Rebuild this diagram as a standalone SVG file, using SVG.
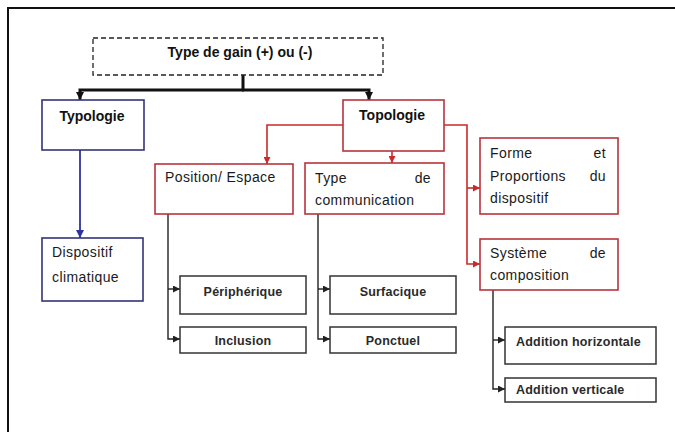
<svg xmlns="http://www.w3.org/2000/svg" width="675" height="432" viewBox="0 0 675 432">
<style>
.bg{fill:#ffffff}
.frame{fill:none;stroke:#111;stroke-width:2}
.box{fill:#fff;stroke-width:1.6}
.blue{stroke:#34347a}
.red{stroke:#b8343c}
.blk{stroke:#333;stroke-width:1.5}
.dash{fill:#fff;stroke:#222;stroke-width:1.3;stroke-dasharray:5 3}
.t{font-family:"Liberation Sans",Arial,sans-serif;font-size:14px;fill:#1a1a1a;letter-spacing:0.4px}
.tb{font-family:"Liberation Sans",Arial,sans-serif;font-size:14px;font-weight:bold;fill:#111}
.ts{font-family:"Liberation Sans",Arial,sans-serif;font-size:12.5px;font-weight:bold;fill:#2a2a2a;letter-spacing:0.2px}
.c{fill:none}
.ck{stroke:#111;stroke-width:3}
.cb{stroke:#3030a0;stroke-width:1.8}
.cr{stroke:#cc2a2a;stroke-width:1.6}
.ct{stroke:#222;stroke-width:1.4}
</style>
<defs>
<marker id="aK" viewBox="0 0 10 10" refX="10" refY="5" markerWidth="8" markerHeight="8" markerUnits="userSpaceOnUse" orient="auto"><path d="M0,0 L10,5 L0,10 z" fill="#111"/></marker>
<marker id="aB" viewBox="0 0 10 10" refX="10" refY="5" markerWidth="8" markerHeight="8" markerUnits="userSpaceOnUse" orient="auto"><path d="M0,0 L10,5 L0,10 z" fill="#3030a0"/></marker>
<marker id="aR" viewBox="0 0 10 10" refX="10" refY="5" markerWidth="7" markerHeight="7" markerUnits="userSpaceOnUse" orient="auto"><path d="M0,0 L10,5 L0,10 z" fill="#cc2a2a"/></marker>
<marker id="aT" viewBox="0 0 10 10" refX="10" refY="5" markerWidth="7" markerHeight="7" markerUnits="userSpaceOnUse" orient="auto"><path d="M0,0 L10,5 L0,10 z" fill="#222"/></marker>
</defs>
<rect class="bg" x="0" y="0" width="675" height="432"/>
<path class="frame" d="M8,432 V8 H675"/>

<g id="connectors">
<path class="c ck" d="M243,75 V90"/>
<path class="c ck" d="M244,90 H80 V100" marker-end="url(#aK)"/>
<path class="c ck" d="M242,90 H369 V100" marker-end="url(#aK)"/>
<path class="c cb" d="M80,150 V238" marker-end="url(#aB)"/>
<path class="c cr" d="M343,125 H267 V164" marker-end="url(#aR)"/>
<path class="c cr" d="M392,151 V163" marker-end="url(#aR)"/>
<path class="c cr" d="M444,125 H467 V264 H480" marker-end="url(#aR)"/>
<path class="c cr" d="M467,188 H480" marker-end="url(#aR)"/>
<path class="c ct" d="M168,214 V339 H180" marker-end="url(#aT)"/>
<path class="c ct" d="M168,289 H180" marker-end="url(#aT)"/>
<path class="c ct" d="M318,214 V339 H330" marker-end="url(#aT)"/>
<path class="c ct" d="M318,289 H330" marker-end="url(#aT)"/>
<path class="c ct" d="M493,290 V389 H505" marker-end="url(#aT)"/>
<path class="c ct" d="M493,340 H505" marker-end="url(#aT)"/>
</g>

<g id="type-de-gain">
<rect class="dash" x="93" y="38" width="290" height="37"/>
<text class="tb" x="240" y="57" text-anchor="middle">Type de gain (+) ou (-)</text>
</g>
<g id="typologie">
<rect class="box blue" x="42" y="100" width="102" height="50"/>
<text class="tb" x="92" y="121" text-anchor="middle">Typologie</text>
</g>
<g id="dispositif-climatique">
<rect class="box blue" x="42" y="238" width="101" height="63"/>
<text class="t" x="52" y="257">Dispositif</text>
<text class="t" x="52" y="282">climatique</text>
</g>
<g id="topologie">
<rect class="box red" x="343" y="100" width="101" height="51"/>
<text class="tb" x="392" y="120" text-anchor="middle">Topologie</text>
</g>
<g id="position-espace">
<rect class="box red" x="155" y="164" width="138" height="50"/>
<text class="t" x="165" y="182">Position/ Espace</text>
</g>
<g id="type-de-communication">
<rect class="box red" x="305" y="163" width="139" height="51"/>
<text class="t" x="315" y="183">Type</text>
<text class="t" x="431" y="183" text-anchor="end">de</text>
<text class="t" x="315" y="205">communication</text>
</g>
<g id="forme-proportions">
<rect class="box red" x="480" y="138" width="138" height="76"/>
<text class="t" x="490" y="158">Forme</text>
<text class="t" x="606" y="158" text-anchor="end">et</text>
<text class="t" x="490" y="181">Proportions</text>
<text class="t" x="606" y="181" text-anchor="end">du</text>
<text class="t" x="490" y="203">dispositif</text>
</g>
<g id="systeme-composition">
<rect class="box red" x="480" y="239" width="138" height="51"/>
<text class="t" x="490" y="258">Système</text>
<text class="t" x="606" y="258" text-anchor="end">de</text>
<text class="t" x="490" y="280">composition</text>
</g>
<g id="peripherique">
<rect class="box blk" x="180" y="276" width="126" height="38"/>
<text class="ts" x="243" y="296" text-anchor="middle">Périphérique</text>
</g>
<g id="inclusion">
<rect class="box blk" x="180" y="327" width="126" height="26"/>
<text class="ts" x="243" y="345" text-anchor="middle">Inclusion</text>
</g>
<g id="surfacique">
<rect class="box blk" x="330" y="276" width="126" height="38"/>
<text class="ts" x="393" y="296" text-anchor="middle">Surfacique</text>
</g>
<g id="ponctuel">
<rect class="box blk" x="330" y="327" width="126" height="26"/>
<text class="ts" x="393" y="345" text-anchor="middle">Ponctuel</text>
</g>
<g id="addition-horizontale">
<rect class="box blk" x="505" y="327" width="151" height="37"/>
<text class="ts" x="516" y="346">Addition horizontale</text>
</g>
<g id="addition-verticale">
<rect class="box blk" x="505" y="378" width="151" height="24"/>
<text class="ts" x="516" y="394">Addition verticale</text>
</g>
</svg>
